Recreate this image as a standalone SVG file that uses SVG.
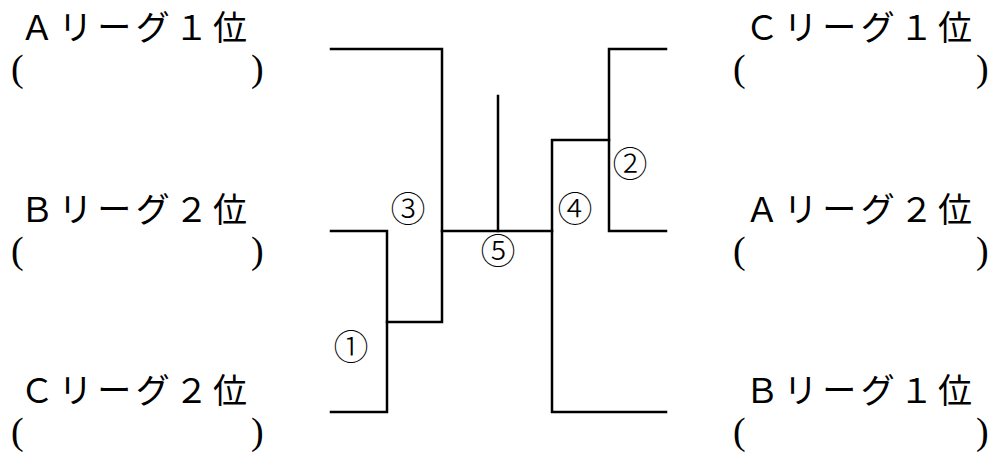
<svg xmlns="http://www.w3.org/2000/svg" width="995" height="453" viewBox="0 0 995 453">
<style>
.lbl{font-family:"Noto Sans CJK JP","Noto Sans CJK SC",sans-serif;font-size:34px;letter-spacing:4.6px;fill:#000}
.par{font-family:"Liberation Serif",serif;font-size:38px;fill:#000}
.num{font-family:"Noto Sans CJK JP",sans-serif;font-size:35px;fill:#000;text-anchor:middle;font-weight:300}
.ln{stroke:#000;stroke-width:2.5;fill:none;stroke-linecap:square}
</style>
<rect width="995" height="453" fill="#fff"/>
<g id="connectors">
<polyline class="ln" points="331,49 442,49 442,322 387,322"/>
<polyline class="ln" points="331,231 387,231 387,412 331,412"/>
<line class="ln" x1="442" y1="231" x2="552" y2="231"/>
<line class="ln" x1="498" y1="96" x2="498" y2="231"/>
<polyline class="ln" points="666,412 552,412 552,140 609,140"/>
<polyline class="ln" points="666,49 609,49 609,231 666,231"/>
</g>
<g id="n-a1"><text class="lbl" x="20" y="40">Ａリーグ１位</text><text class="par" y="81"><tspan x="11">(</tspan><tspan x="251">)</tspan></text></g>
<g id="n-b2"><text class="lbl" x="20" y="222">Ｂリーグ２位</text><text class="par" y="263"><tspan x="11">(</tspan><tspan x="251">)</tspan></text></g>
<g id="n-c2"><text class="lbl" x="20" y="403">Ｃリーグ２位</text><text class="par" y="444"><tspan x="11">(</tspan><tspan x="251">)</tspan></text></g>
<g id="n-c1"><text class="lbl" x="745" y="40">Ｃリーグ１位</text><text class="par" y="81"><tspan x="733">(</tspan><tspan x="976">)</tspan></text></g>
<g id="n-a2"><text class="lbl" x="745" y="222">Ａリーグ２位</text><text class="par" y="263"><tspan x="733">(</tspan><tspan x="976">)</tspan></text></g>
<g id="n-b1"><text class="lbl" x="745" y="403">Ｂリーグ１位</text><text class="par" y="444"><tspan x="733">(</tspan><tspan x="976">)</tspan></text></g>
<g id="m1"><text class="num" x="351" y="360">①</text></g>
<g id="m2"><text class="num" x="630" y="177">②</text></g>
<g id="m3"><text class="num" x="408" y="222">③</text></g>
<g id="m4"><text class="num" x="575" y="222">④</text></g>
<g id="m5"><text class="num" x="498" y="264">⑤</text></g>
</svg>
